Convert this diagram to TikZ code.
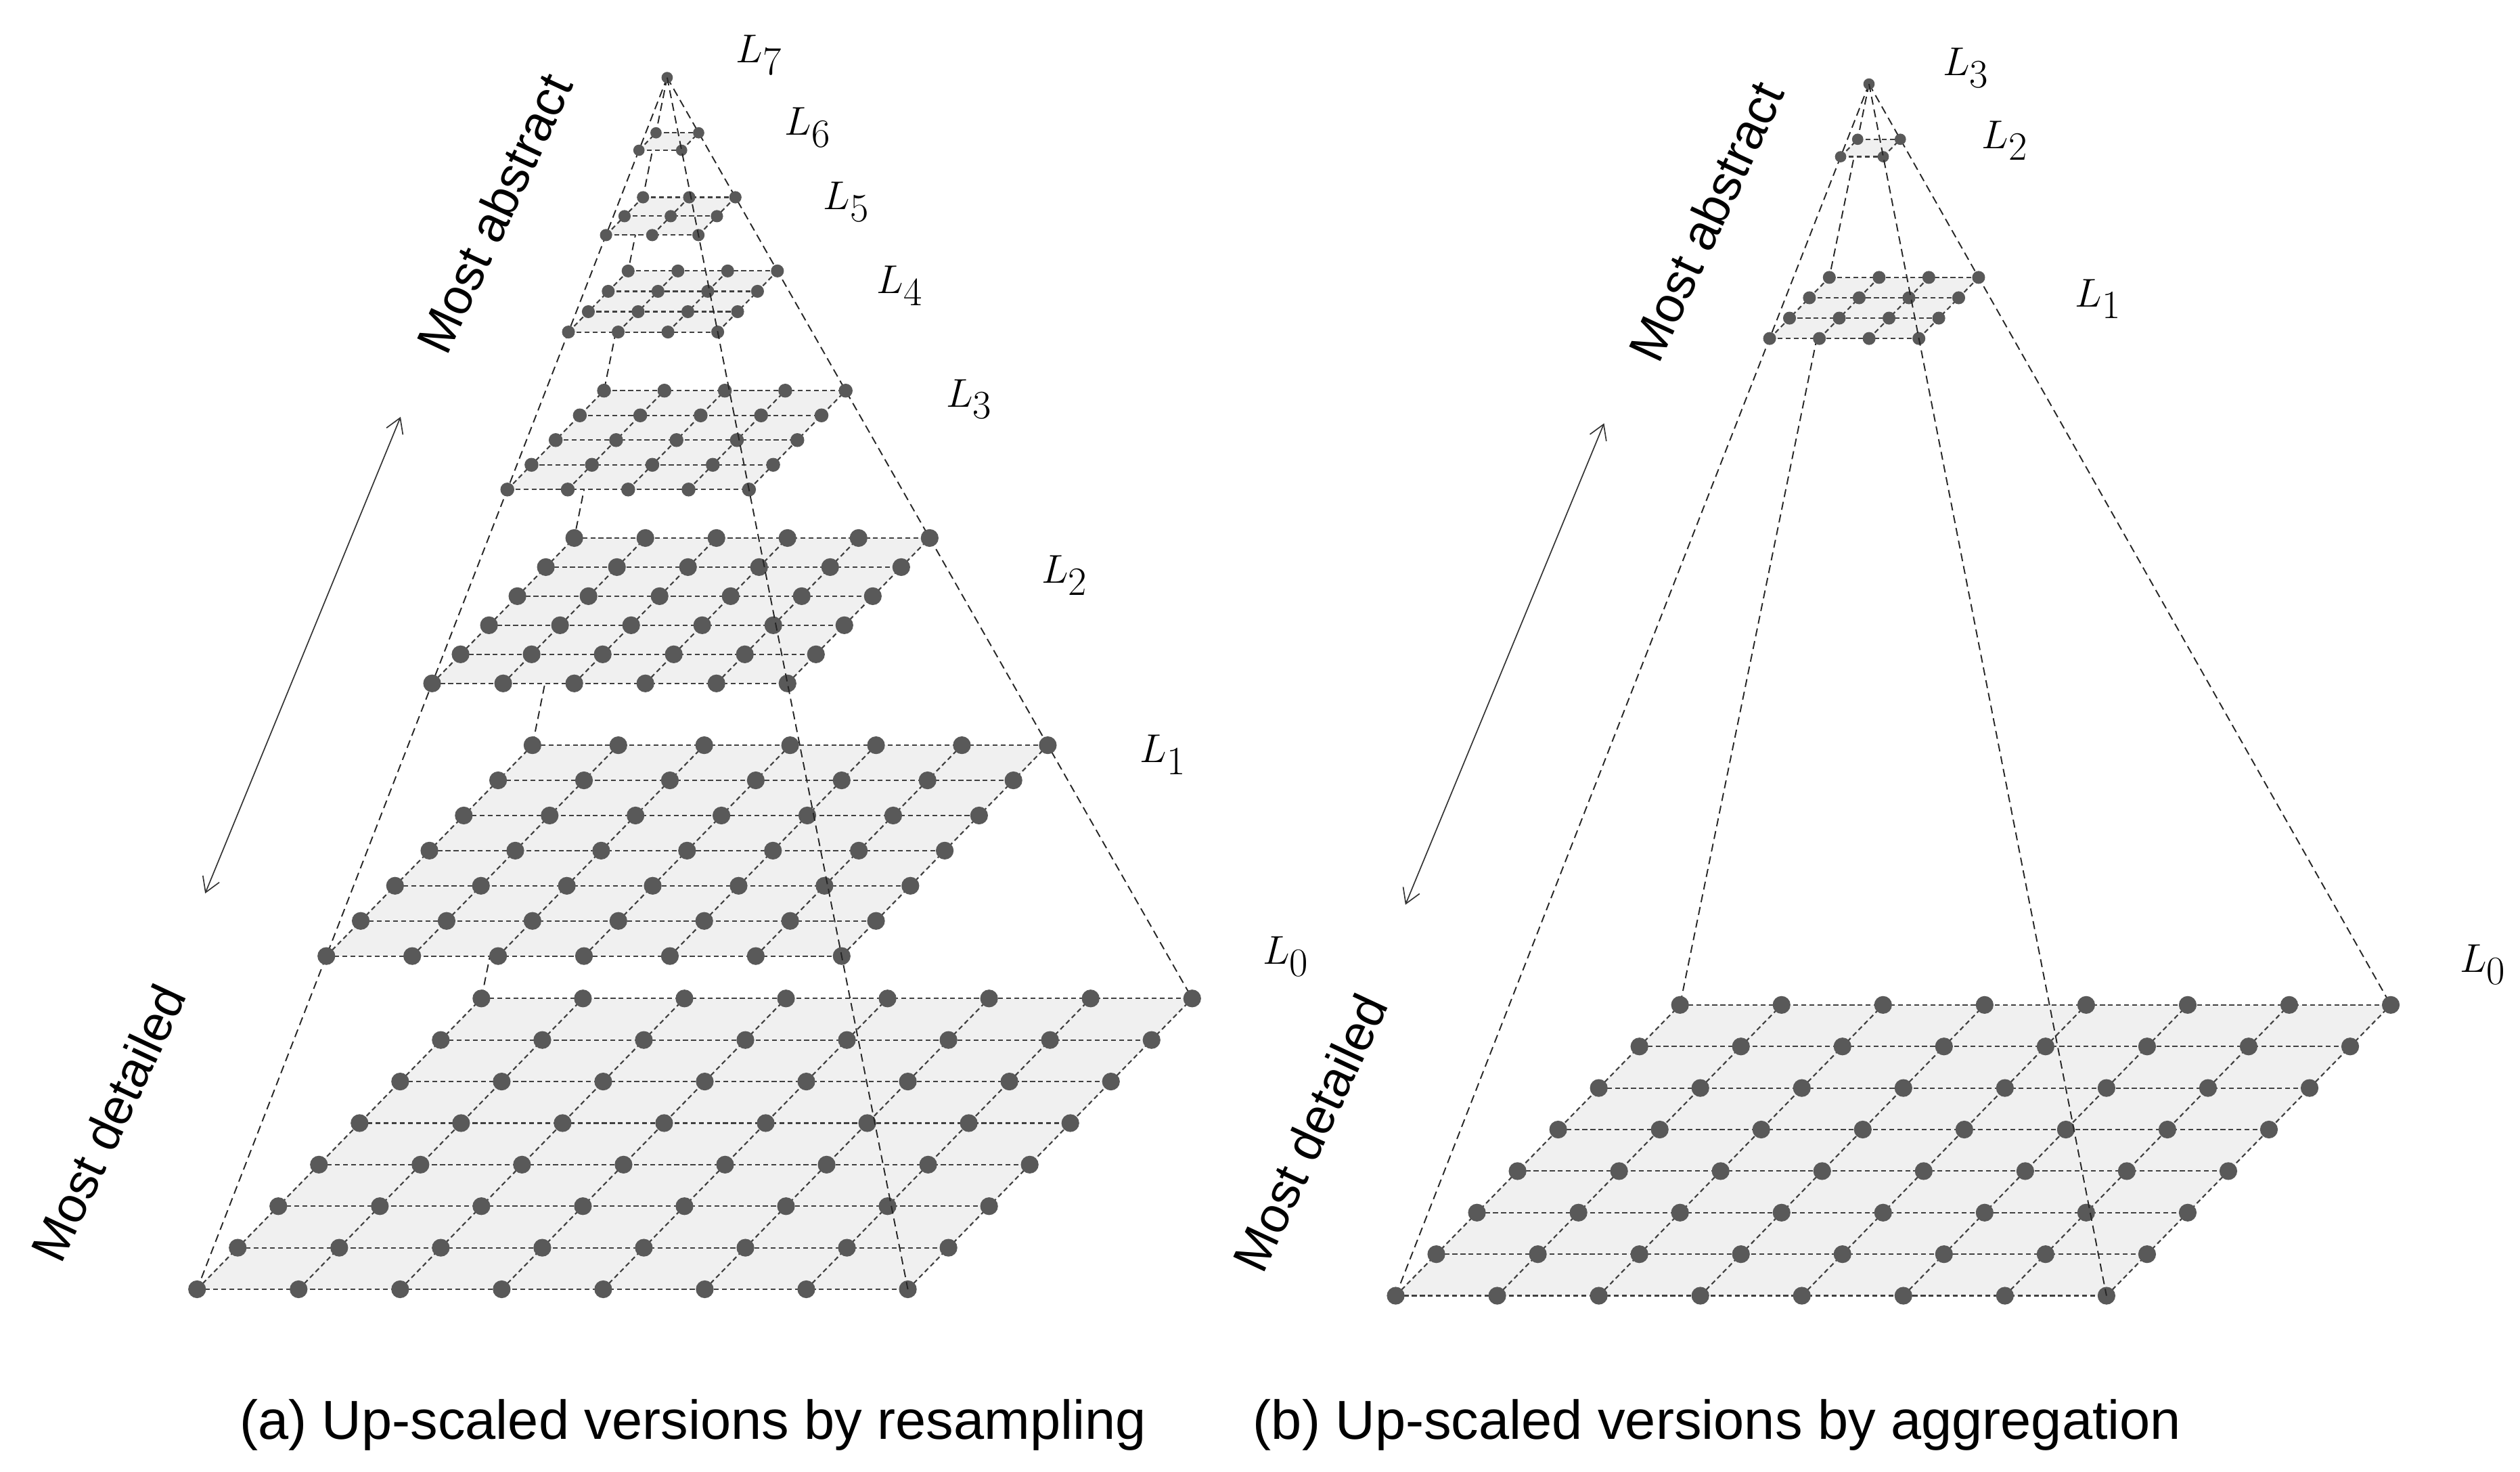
\documentclass[tikz,border=0pt]{standalone}
\usepackage{fontspec}
\setmainfont{Liberation Sans}
\usetikzlibrary{arrows.meta}
\begin{document}
\begin{tikzpicture}[x=1pt,y=-1pt,
  edge/.style={black!85,line width=0.8pt,dash pattern=on 5pt off 3pt},
  grid/.style={black!75,line width=0.9pt,dash pattern=on 3pt off 2pt},
  lvl/.style={fill=black!6},
  dot/.style={fill=black!65},
  lab/.style={font=\fontsize{36}{38}\selectfont},
  side/.style={font=\fontsize{31}{33}\selectfont,rotate=65},
  dbl/.style={black!80,line width=0.7pt,{Straight Barb[length=9pt,width=11pt]}-{Straight Barb[length=9pt,width=11pt]}},
  captext/.style={font=\fontsize{34}{36}\selectfont}]
\useasboundingbox (0,0) rectangle (1560,911);
\newcommand\plevel[7]{%
 \pgfmathsetmacro\px{#1+#5*(#3-#1)}\pgfmathsetmacro\py{#2+#5*(#4-#2)}%
 \pgfmathsetmacro\ux{#5*440}\pgfmathsetmacro\vx{#5*176}\pgfmathsetmacro\vy{-#5*180}%
 \fill[lvl] (\px,\py) -- ++(\ux,0) -- ++(\vx,\vy) -- ++(-\ux,0) -- cycle;
 \pgfmathtruncatemacro\nm{#6-1}%
 \foreach \j in {0,...,\nm}{%
   \pgfmathsetmacro\t{\j/\nm}%
   \draw[grid] (\px+\t*\vx,\py+\t*\vy) -- ++(\ux,0);
   \draw[grid] (\px+\t*\ux,\py) -- ++(\vx,\vy);}
 \foreach \i in {0,...,\nm}{\foreach \j in {0,...,\nm}{%
   \pgfmathsetmacro\xx{\px+\i/\nm*\ux+\j/\nm*\vx}%
   \pgfmathsetmacro\yy{\py+\j/\nm*\vy}%
   \fill[dot] (\xx,\yy) circle (#7);}}
}
% ---------- left pyramid ----------
\coordinate (aA) at (413,48);
\coordinate (aBL) at (122,798);
\coordinate (aBR) at (562,798);
\coordinate (aTR) at (738,618);
\coordinate (aTL) at (298,618);
\draw[edge] (aA) -- (aBL);
\draw[edge] (aA) -- (aTR);
\draw[edge] (aA) -- (aTL);
\plevel{413}{48}{122}{798}{1}{8}{5.5}
\plevel{413}{48}{122}{798}{0.725}{7}{5.5}
\plevel{413}{48}{122}{798}{0.5}{6}{5.5}
\plevel{413}{48}{122}{798}{0.34}{5}{4.3}
\plevel{413}{48}{122}{798}{0.21}{4}{4}
\plevel{413}{48}{122}{798}{0.13}{3}{3.8}
\plevel{413}{48}{122}{798}{0.06}{2}{3.5}
\fill[dot] (aA) circle (3.5);
\draw[edge] (aA) -- (aBR);
\node[lab] (a7) at (470,34) {$L_7$};
\node[lab] (a6) at (500,79) {$L_6$};
\node[lab] (a5) at (524,125) {$L_5$};
\node[lab] (a4) at (557,177) {$L_4$};
\node[lab] (a3) at (600,247) {$L_3$};
\node[lab] (a2) at (659,356) {$L_2$};
\node[lab] (a1) at (720,467) {$L_1$};
\node[lab] (a0) at (796,592) {$L_0$};
\node[side] (aab) at (306,132) {Most abstract};
\node[side] (ade) at (67,695) {Most detailed};
\coordinate (aar1) at (248,258);
\coordinate (aar2) at (127,553);
\draw[dbl] (aar1) -- (aar2);
\node[captext] (acap) at (429,882) {(a) Up-scaled versions by resampling};
% ---------- right pyramid ----------
\coordinate (bA) at (1157,52);
\coordinate (bBL) at (864,802);
\coordinate (bBR) at (1304,802);
\coordinate (bTR) at (1480,622);
\coordinate (bTL) at (1040,622);
\draw[edge] (bA) -- (bBL);
\draw[edge] (bA) -- (bTR);
\draw[edge] (bA) -- (bTL);
\plevel{1157}{52}{864}{802}{1}{8}{5.5}
\plevel{1157}{52}{864}{802}{0.21}{4}{4}
\plevel{1157}{52}{864}{802}{0.06}{2}{3.5}
\fill[dot] (bA) circle (3.5);
\draw[edge] (bA) -- (bBR);
\node[lab] (b3) at (1217,42) {$L_3$};
\node[lab] (b2) at (1241,87) {$L_2$};
\node[lab] (b1) at (1299,185) {$L_1$};
\node[lab] (b0) at (1537,597) {$L_0$};
\node[side] (bab) at (1056,137) {Most abstract};
\node[side] (bde) at (811,701) {Most detailed};
\coordinate (bar1) at (993,262);
\coordinate (bar2) at (870,560);
\draw[dbl] (bar1) -- (bar2);
\node[captext] (bcap) at (1063,882) {(b) Up-scaled versions by aggregation};
\end{tikzpicture}
\end{document}
